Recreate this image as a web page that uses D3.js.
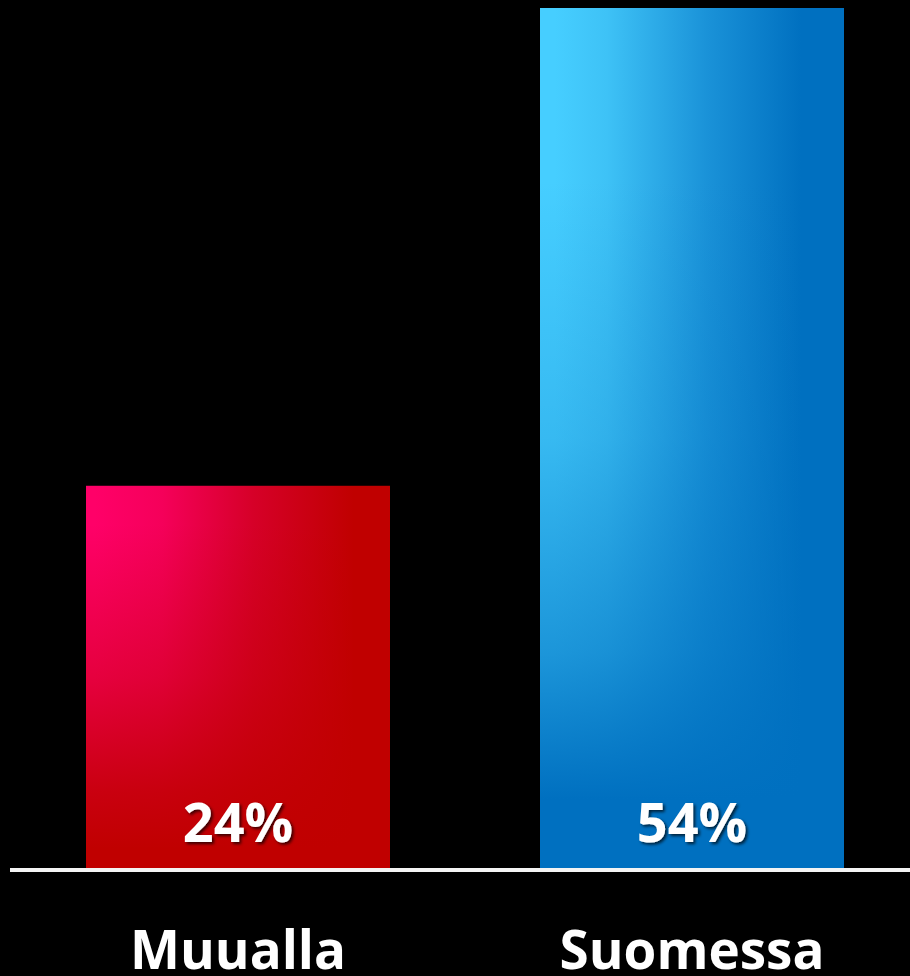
<!DOCTYPE html>
<html>
<head>
<meta charset="utf-8">
<script src="https://cdn.jsdelivr.net/npm/d3@7"></script>
<style>
  html, body { margin: 0; padding: 0; background: #000; }
  svg { display: block; }
</style>
</head>
<body>
<svg id="chart" width="910" height="976"></svg>
<script>
const categories = ["Muualla", "Suomessa"];
const values = [24, 54];
const valueLabels = ["24%", "54%"];
// horizontal colour ramps (left -> right) and the dark shade the bottom fades into
const hStops = [
  [{o: 0.03, c: "#ff0068"}, {o: 0.25, c: "#f5005a"}, {o: 0.55, c: "#d60028"}, {o: 0.88, c: "#c00000"}],
  [{o: 0.05, c: "#46ceff"}, {o: 0.22, c: "#3ec2f6"}, {o: 0.55, c: "#1a92d8"}, {o: 0.86, c: "#0070c0"}]
];
const darkShade = ["#c00000", "#0070c0"];
const vStops = [
  [{o: 0.1, a: 0}, {o: 0.5, a: 0.4}, {o: 0.8, a: 0.85}, {o: 0.95, a: 1}],
  [{o: 0.2, a: 0}, {o: 0.5, a: 0.22}, {o: 0.75, a: 0.6}, {o: 0.92, a: 1}]
];

const svg = d3.select("#chart");
const W = 910, H = 976;
svg.append("rect").attr("width", W).attr("height", H).attr("fill", "#000");

const defs = svg.append("defs");
hStops.forEach((stops, i) => {
  const g = defs.append("linearGradient").attr("id", "hgrad" + i)
    .attr("x1", 0).attr("y1", 0).attr("x2", 1).attr("y2", 0);
  stops.forEach(s => g.append("stop").attr("offset", s.o).attr("stop-color", s.c));
  const v = defs.append("linearGradient").attr("id", "vgrad" + i)
    .attr("x1", 0).attr("y1", 0).attr("x2", 0).attr("y2", 1);
  vStops[i].forEach(s => v.append("stop").attr("offset", s.o)
    .attr("stop-color", darkShade[i]).attr("stop-opacity", s.a));
});
const f = defs.append("filter").attr("id", "shadow")
  .attr("x", "-20%").attr("y", "-20%").attr("width", "140%").attr("height", "140%");
f.append("feDropShadow").attr("dx", 2).attr("dy", 2).attr("stdDeviation", 1.5)
  .attr("flood-color", "#000").attr("flood-opacity", 0.7);

const x = d3.scaleBand()
  .domain(categories)
  .range([11, 919])
  .paddingInner(150 / 454)
  .paddingOuter(75 / 454);

const y = d3.scaleLinear().domain([0, 54]).range([868, 8]);

const bars = svg.selectAll("g.bar")
  .data(categories)
  .join("g")
  .attr("class", "bar");
["h", "v"].forEach(k => {
  bars.append("rect")
    .attr("x", d => x(d))
    .attr("width", x.bandwidth())
    .attr("y", (d, i) => y(values[i]))
    .attr("height", (d, i) => y(0) - y(values[i]))
    .attr("fill", (d, i) => `url(#${k}grad${i})`);
});

// baseline
svg.append("line")
  .attr("x1", 10).attr("x2", 910)
  .attr("y1", y(0) + 2).attr("y2", y(0) + 2)
  .attr("stroke", "#f4f4f4").attr("stroke-width", 4);

// value labels
svg.selectAll("text.val")
  .data(categories)
  .join("text")
  .attr("class", "val")
  .attr("x", d => x(d) + x.bandwidth() / 2)
  .attr("y", 842)
  .attr("text-anchor", "middle")
  .attr("font-family", "'Open Sans', sans-serif")
  .attr("font-weight", 700)
  .attr("font-size", 54)
  .attr("fill", "#fff")
  .attr("filter", "url(#shadow)")
  .text((d, i) => valueLabels[i]);

// category axis labels
const xAxis = d3.axisBottom(x).tickSize(0).tickPadding(0);
const ax = svg.append("g").attr("transform", `translate(0, ${y(0)})`).call(xAxis);
ax.select(".domain").remove();
ax.selectAll("text")
  .attr("dy", null)
  .attr("y", 101)
  .attr("font-family", "'Open Sans', sans-serif")
  .attr("font-weight", 700)
  .attr("font-size", 53)
  .attr("fill", "#fff");
</script>
</body>
</html>
